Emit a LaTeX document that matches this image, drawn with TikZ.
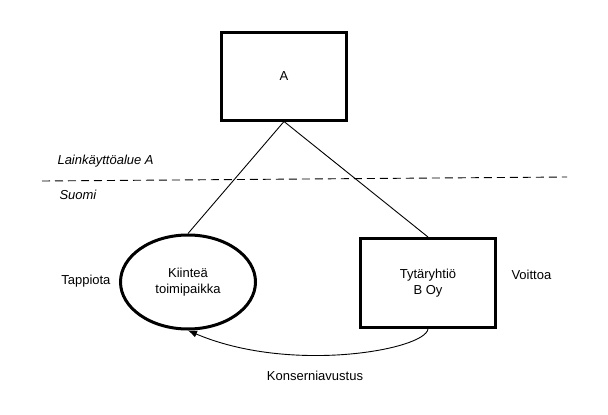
\documentclass[tikz,border=0pt]{standalone}
\usepackage{fontspec}
\setmainfont{Liberation Sans}
\usetikzlibrary{positioning,shapes.geometric,arrows.meta}

\begin{document}
\begin{tikzpicture}[x=1pt,y=-1pt,>={Latex[length=9pt,width=7pt]},font=\fontsize{13}{15.5}\selectfont,
    yhtio/.style={draw,line width=3pt,minimum width=125pt,minimum height=88pt,align=center},
    toimi/.style={draw,ellipse,line width=3pt,minimum width=135pt,minimum height=94pt,align=center},
    ohut/.style={line width=0.9pt},
    alue/.style={font=\fontsize{13}{15.5}\selectfont\itshape,anchor=west}]
  \useasboundingbox (0,0) rectangle (608,415);
  \node[yhtio] (a) at (284,76) {A};
  \node[toimi] (kp) at (188,282) {Kiinteä\\toimipaikka};
  \node[yhtio,minimum width=135pt,minimum height=89pt] (b) at (428,283) {Tytäryhtiö\\B Oy};
  \node[anchor=east] (tap) at (114,281) {Tappiota};
  \node[anchor=west] (voi) at (508,275) {Voittoa};
  \node[alue] (la) at (54,161) {Lainkäyttöalue A};
  \node[alue] (suo) at (56,195) {Suomi};
  \node (kon) at (315,376) {Konserniavustus};
  \coordinate (rv) at (42,181);
  \coordinate (ro) at (567,177);
  \draw[ohut,dash pattern=on 8pt off 5pt] (rv) -- (ro);
  \draw[ohut] (a.south) -- (kp.north);
  \draw[ohut] (a.south) -- (b.north);
  \draw[ohut,->] (b.south) .. controls (425,350) and (290,374) .. (kp.south);
\end{tikzpicture}
\end{document}
